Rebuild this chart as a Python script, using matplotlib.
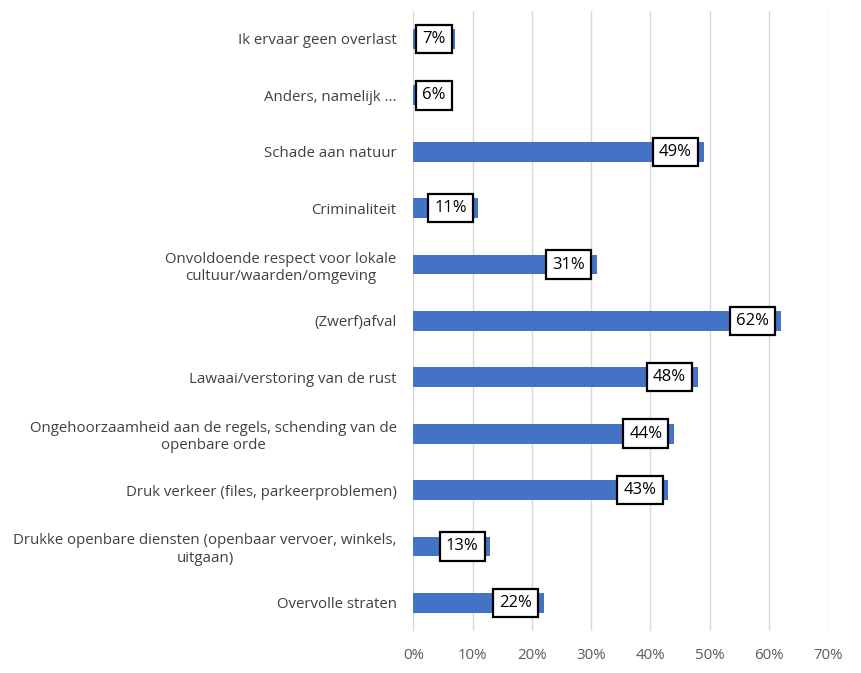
import matplotlib.pyplot as plt

categories = [
    'Ik ervaar geen overlast',
    'Anders, namelijk ...',
    'Schade aan natuur',
    'Criminaliteit',
    'Onvoldoende respect voor lokale\ncultuur/waarden/omgeving',
    '(Zwerf)afval',
    'Lawaai/verstoring van de rust',
    'Ongehoorzaamheid aan de regels, schending van de\nopenbare orde',
    'Druk verkeer (files, parkeerproblemen)',
    'Drukke openbare diensten (openbaar vervoer, winkels,\nuitgaan)',
    'Overvolle straten',
]
values = [7, 6, 49, 11, 31, 62, 48, 44, 43, 13, 22]
xticks = [0, 10, 20, 30, 40, 50, 60, 70]

plt.rcParams['font.family'] = ['Open Sans', 'DejaVu Sans']

fig = plt.figure(figsize=(8.61, 6.73), dpi=100)
ax = fig.add_axes([0.48, 0.0624, 0.4817, 0.9216])

ypos = list(range(len(categories)))[::-1]
ax.barh(ypos, values, height=0.35, color='#4472C4', zorder=3)

# data labels: white boxes just inside the bar end; short bars get the box
# pinned near the axis start instead (like Excel does)
box = dict(boxstyle='square,pad=0.37', fc='white', ec='black', lw=1.6)
for y, v in zip(ypos, values):
    if v < 8:
        ax.annotate(f'{v}%', xy=(0, y), xytext=(6.6, 0), textcoords='offset points',
                    ha='left', va='center', fontsize=12, color='black', zorder=4, bbox=box)
    else:
        ax.annotate(f'{v}%', xy=(v, y), xytext=(-8.4, 0), textcoords='offset points',
                    ha='right', va='center', fontsize=12, color='black', zorder=4, bbox=box)

ax.set_xlim(0, 70)
ax.set_ylim(-0.5, len(categories) - 0.5)
ax.set_xticks(xticks)
ax.set_xticklabels([f'{t}%' for t in xticks], fontsize=10.8, color='#595959')
ax.set_yticks(ypos)
ax.set_yticklabels(categories, fontsize=10.8, color='#404040', ha='right',
                   multialignment='center')
ax.tick_params(axis='y', length=0, pad=12)
ax.tick_params(axis='x', length=0, pad=12)
ax.xaxis.grid(True, color='#D9D9D9', lw=1, zorder=0)
for s in ax.spines.values():
    s.set_visible(False)

fig.savefig('out.png', dpi=100)
